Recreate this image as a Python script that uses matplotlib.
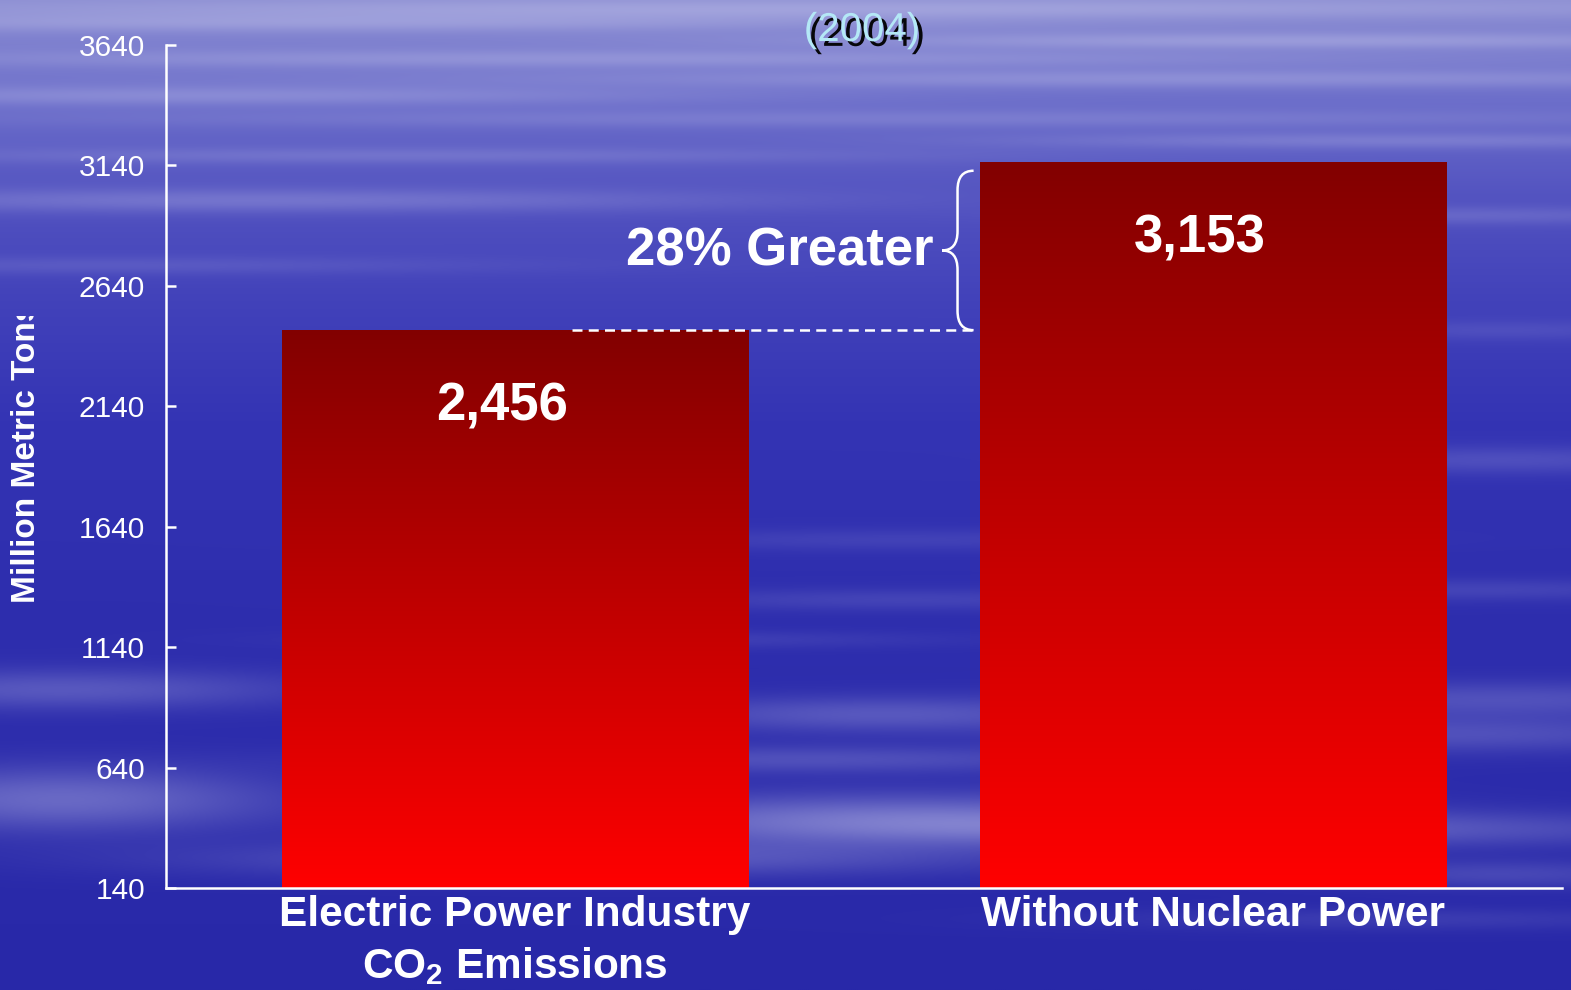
import numpy as np
import matplotlib
matplotlib.use("Agg")
import matplotlib.pyplot as plt
from matplotlib.path import Path
from matplotlib.patches import PathPatch
from matplotlib.transforms import Bbox, TransformedBbox
import matplotlib.patheffects as pe

# ---- data -------------------------------------------------------------
categories = ["Electric Power Industry\nCO$_{\\mathbf{2}}$ Emissions",
              "Without Nuclear Power"]
emissions = [2456, 3153]                  # million metric tons CO2
value_labels = ["2,456", "3,153"]
y_ticks = [140, 640, 1140, 1640, 2140, 2640, 3140, 3640]
increase_label = "28% Greater"
year_label = "(2004)"
y_axis_label = "Million Metric Tons"

# ---- fonts ------------------------------------------------------------
plt.rcParams['font.family'] = ['Liberation Sans', 'DejaVu Sans']
plt.rcParams['mathtext.fontset'] = 'custom'
plt.rcParams['mathtext.rm'] = 'Liberation Sans'
plt.rcParams['mathtext.bf'] = 'Liberation Sans:bold'

W_PX, H_PX = 1571, 990
fig = plt.figure(figsize=(W_PX / 100, H_PX / 100), dpi=100)

# ---- sky background: blue gradient with soft cloud streaks -------------
bg = fig.add_axes([0, 0, 1, 1], zorder=0)
bg.set_axis_off()
tw, th = 786, 495
ys = np.linspace(0, H_PX, th)[:, None]
xs = np.linspace(0, W_PX, tw)[None, :]
stop_y = [0, 100, 200, 300, 420, 600, 990]
stop_c = np.array([[138, 140, 210], [108, 110, 202], [82, 82, 192],
                   [66, 66, 186], [52, 52, 180], [46, 46, 174],
                   [40, 40, 168]]) / 255.0
base = np.stack([np.interp(ys[:, 0], stop_y, stop_c[:, k]) for k in range(3)],
                axis=-1)[:, None, :] * np.ones((1, tw, 1))
# (y centre, x centre, x half-width, y thickness, strength)
streaks = [
    (8, 800, 900, 10, 0.28), (22, 300, 600, 9, 0.24), (40, 1300, 500, 8, 0.28),
    (58, 600, 700, 9, 0.24), (78, 1200, 700, 9, 0.24), (95, 200, 500, 10, 0.24),
    (118, 900, 800, 9, 0.16), (140, 1400, 400, 8, 0.20), (155, 400, 500, 8, 0.16),
    (200, 250, 500, 12, 0.24), (215, 1450, 300, 9, 0.16), (265, 100, 400, 9, 0.12),
    (330, 1500, 200, 10, 0.10), (460, 1500, 250, 14, 0.16), (540, 900, 350, 11, 0.10),
    (590, 1480, 250, 11, 0.12), (600, 900, 300, 11, 0.12), (640, 650, 300, 9, 0.10),
    (690, 60, 250, 20, 0.24), (700, 1500, 300, 18, 0.20), (715, 880, 250, 18, 0.24),
    (735, 1450, 300, 18, 0.20), (760, 800, 350, 14, 0.20), (800, 60, 220, 32, 0.34),
    (820, 900, 350, 26, 0.38), (830, 1300, 450, 18, 0.24), (860, 600, 400, 18, 0.24),
    (875, 1500, 200, 14, 0.16), (920, 1400, 300, 11, 0.10),
]
glow = np.zeros((th, tw))
for yc, xc, sx, sy, a in streaks:
    glow += a * np.exp(-((ys - yc) / sy) ** 2) * np.exp(-((xs - xc) / sx) ** 2)
glow = np.clip(glow, 0, 0.7)[..., None]
hi = np.array([0.88, 0.88, 0.97])
sky = base * (1 - glow) + hi * glow
bg.imshow(sky, extent=[0, 1, 0, 1], aspect='auto', interpolation='bilinear',
          origin='upper')
bg.set_xlim(0, 1)
bg.set_ylim(0, 1)

# ---- main chart axes ---------------------------------------------------
left, right, top, bottom = 166, 1562, 45, 888
ax = fig.add_axes([left / W_PX, 1 - bottom / H_PX,
                   (right - left) / W_PX, (bottom - top) / H_PX], zorder=1)
ax.patch.set_alpha(0)

x = np.arange(len(categories))
bar_w = 0.668
ymin, ymax = y_ticks[0], y_ticks[-1]
bars = ax.bar(x, [v - ymin for v in emissions], bottom=ymin, width=bar_w,
              color='none', edgecolor='none', zorder=2)

# vertical red gradient inside each bar (bright at the base, dark at the top)
grad = np.linspace(0, 1, 256)[:, None]
red = np.zeros((256, 1, 3))
red[..., 0] = 1.0 - 0.49 * grad
for rect in bars:
    x0, w = rect.get_x(), rect.get_width()
    y0, h = rect.get_y(), rect.get_height()
    ax.imshow(red, extent=[x0, x0 + w, y0, y0 + h], origin='lower',
              aspect='auto', interpolation='bilinear', zorder=2)

ax.set_xlim(-0.5, 1.5)
ax.set_ylim(ymin, ymax)

# axes styling
for side in ('top', 'right'):
    ax.spines[side].set_visible(False)
for side in ('left', 'bottom'):
    ax.spines[side].set_color('white')
    ax.spines[side].set_linewidth(1.8)
ax.set_yticks(y_ticks)
ax.set_yticklabels([str(t) for t in y_ticks])
ax.tick_params(axis='y', direction='in', length=7, width=1.8, colors='white',
               labelsize=21.5, pad=15)
ax.set_xticks(x)
ax.set_xticklabels(categories, fontsize=30.5, fontweight='bold', color='white',
                   linespacing=1.3)
ax.tick_params(axis='x', length=0, pad=5)

# value labels inside the bars
for xi, v, lab in zip(x, emissions, value_labels):
    ax.annotate(lab, xy=(xi, v), xytext=(-13, -76), textcoords='offset pixels',
                ha='center', va='center', fontsize=38, fontweight='bold',
                color='white', zorder=4)

# dashed reference line at the first bar's height
ax.plot([0.082, 0.655], [emissions[0], emissions[0]], color='white', lw=1.8,
        ls=(0, (4, 2.5)), zorder=3, solid_capstyle='butt')

# curly brace spanning the difference
y0b, y1b = emissions[0], emissions[1] - 35
ymb = (y0b + y1b) / 2
x_end, x_line, x_tip = 0.657, 0.634, 0.612
r = 80
verts = [(x_end, y1b), (x_line, y1b), (x_line, y1b - r),
         (x_line, ymb + r), (x_line, ymb), (x_tip, ymb),
         (x_line, ymb), (x_line, ymb - r),
         (x_line, y0b + r), (x_line, y0b), (x_end, y0b)]
codes = [Path.MOVETO, Path.CURVE3, Path.CURVE3,
         Path.LINETO, Path.CURVE3, Path.CURVE3,
         Path.CURVE3, Path.CURVE3,
         Path.LINETO, Path.CURVE3, Path.CURVE3]
ax.add_patch(PathPatch(Path(verts, codes), facecolor='none', edgecolor='white',
                       lw=1.8, zorder=3))
ax.text(0.599, ymb - 5, increase_label, ha='right', va='center', fontsize=38,
        fontweight='bold', color='white', zorder=4)

# ---- y-axis label (runs off the top of its box) -------------------------
ylab = fig.text(27 / W_PX, 1 - 603 / H_PX, y_axis_label, rotation=90,
                ha='center', va='bottom', fontsize=24, fontweight='bold',
                color='white', clip_on=True)
ylab.set_clip_box(TransformedBbox(Bbox([[0, 0], [1, 1 - 316 / H_PX]]),
                                  fig.transFigure))

# ---- year caption with drop shadow --------------------------------------
fig.text(862 / W_PX, 1 - 30 / H_PX, year_label, ha='center', va='center',
         fontsize=29, color='#b4e8f6',
         path_effects=[pe.withSimplePatchShadow(offset=(3.5, -3.5),
                                                shadow_rgbFace='black',
                                                alpha=0.95)])

fig.savefig('out.png', dpi=100)
